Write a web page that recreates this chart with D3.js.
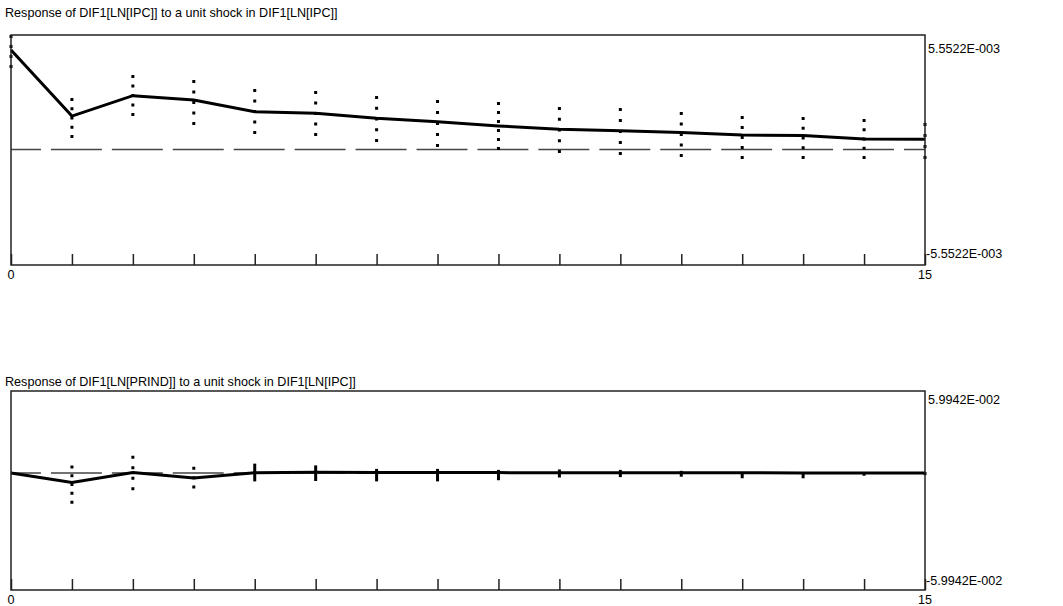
<!DOCTYPE html>
<html>
<head>
<meta charset="utf-8">
<script src="https://cdn.jsdelivr.net/npm/d3@7"></script>
<style>
    body { margin: 0; background: #fff; }
    text { font-family: "Liberation Sans", Arial, sans-serif; font-size: 12.6px; fill: #000; }
</style>
</head>
<body>
<div id="chart"></div>
<script>
// horizon (steps after the shock)
var steps = [0, 1, 2, 3, 4, 5, 6, 7, 8, 9, 10, 11, 12, 13, 14, 15];
var xTickLabels = ["0", "15"];

// panel 1: DIF1[LN[IPC]]
var ipcTitle = "Response of DIF1[LN[IPC]] to a unit shock in DIF1[LN[IPC]]";
var ipcScale = 5.5522e-3;
var ipcScaleLabels = ["5.5522E-003", "-5.5522E-003"];
var ipcResponse = [4.82e-3, 1.62e-3, 2.61e-3, 2.40e-3, 1.83e-3, 1.76e-3, 1.51e-3, 1.35e-3,
    1.14e-3, 0.98e-3, 0.91e-3, 0.83e-3, 0.70e-3, 0.68e-3, 0.51e-3, 0.50e-3];
var ipcUpper = [5.55e-3, 2.50e-3, 3.61e-3, 3.37e-3, 2.93e-3, 2.84e-3, 2.59e-3, 2.40e-3,
    2.30e-3, 2.06e-3, 2.01e-3, 1.82e-3, 1.62e-3, 1.58e-3, 1.48e-3, 1.28e-3];
var ipcLower = [3.95e-3, 0.56e-3, 1.62e-3, 1.19e-3, 0.75e-3, 0.65e-3, 0.36e-3, 0.12e-3,
    -0.02e-3, -0.17e-3, -0.27e-3, -0.36e-3, -0.46e-3, -0.46e-3, -0.46e-3, -0.46e-3];

// panel 2: DIF1[LN[PRIND]]
var prindTitle = "Response of DIF1[LN[PRIND]] to a unit shock in DIF1[LN[IPC]]";
var prindScale = 5.9942e-2;
var prindScaleLabels = ["5.9942E-002", "-5.9942E-002"];
var prindResponse = [0, -4.8e-3, 0.3e-3, -2.6e-3, 0.1e-3, 0.4e-3, 0.3e-3, 0.2e-3,
    0.2e-3, 0.1e-3, 0.1e-3, 0.1e-3, 0.1e-3, 0.0, 0.0, 0.0];
var prindUpper = [0, 3.9e-3, 8.9e-3, 3.2e-3, 4.8e-3, 3.9e-3, 2.1e-3, 2.1e-3,
    1.6e-3, 1.8e-3, 1.6e-3, 1.1e-3, 0.5e-3, 0.5e-3, 0.5e-3, 0.5e-3];
var prindLower = [0, -15.7e-3, -8.9e-3, -8.0e-3, -4.3e-3, -4.1e-3, -4.3e-3, -4.3e-3,
    -3.7e-3, -2.3e-3, -2.1e-3, -1.9e-3, -2.7e-3, -2.7e-3, -1.4e-3, -1.1e-3];

var width = 1063, height = 606;

var svg = d3.select("#chart")
    .append("svg")
    .attr("width", width)
    .attr("height", height);

// p: frame box, y scale pixel range and text positions of one panel
function drawPanel(p, title, scaleMax, scaleLabels, response, upper, lower) {
    var left = 11, right = 925;

    var x = d3.scaleLinear()
        .domain([steps[0], steps[steps.length - 1]])
        .range([left, right]);
    var y = d3.scaleLinear()
        .domain([-scaleMax, scaleMax])
        .range([p.scaleBottom, p.scaleTop]);

    var g = svg.append("g");

    // title
    g.append("text")
        .attr("x", 5)
        .attr("y", p.titleY)
        .text(title);

    // zero line, one dash per step
    var stepWidth = x(1) - x(0);
    g.append("line")
        .attr("x1", x(steps[0]))
        .attr("x2", x(steps[steps.length - 1]))
        .attr("y1", y(0))
        .attr("y2", y(0))
        .attr("stroke", "#444")
        .attr("stroke-width", 1.5)
        .attr("stroke-dasharray", (stepWidth - 10) + "," + 10)
        .attr("stroke-dashoffset", 21);

    // error bands drawn as dotted bars, dots spread evenly from end to end
    // (short bars come out solid)
    g.selectAll(".band")
        .data(steps)
        .enter()
        .append("line")
        .attr("class", "band")
        .attr("x1", function (d) { return x(d); })
        .attr("x2", function (d) { return x(d); })
        .attr("y1", function (d, i) { return y(upper[i]); })
        .attr("y2", function (d, i) { return y(lower[i]); })
        .attr("stroke", "#000")
        .attr("stroke-width", 3)
        .attr("stroke-dasharray", function (d, i) {
            var len = Math.abs(y(lower[i]) - y(upper[i]));
            if (len < 20) return null;
            var n = Math.round(len / 10.5) + 1;
            var gap = (len - 3 * n) / (n - 1);
            return "3," + gap;
        });

    // response line
    g.append("path")
        .datum(steps)
        .attr("fill", "none")
        .attr("stroke", "#000")
        .attr("stroke-width", 3)
        .attr("d", d3.line()
            .x(function (d) { return x(d); })
            .y(function (d, i) { return y(response[i]); })
        );

    // x ticks pointing up into the frame
    var xAxis = g.append("g")
        .attr("transform", "translate(0," + p.bottom + ")")
        .call(d3.axisBottom(x).tickValues(steps).tickSizeInner(-11).tickSizeOuter(0).tickFormat(""));
    xAxis.select(".domain").remove();
    xAxis.selectAll("line").attr("stroke", "#222").attr("stroke-width", 1.5);

    g.selectAll(".xlab")
        .data(xTickLabels)
        .enter()
        .append("text")
        .attr("class", "xlab")
        .attr("x", function (d) { return x(+d); })
        .attr("y", p.bottom + 14)
        .attr("text-anchor", "middle")
        .text(function (d) { return d; });

    // frame
    g.append("rect")
        .attr("x", left)
        .attr("y", p.top)
        .attr("width", right - left)
        .attr("height", p.bottom - p.top)
        .attr("fill", "none")
        .attr("stroke", "#222")
        .attr("stroke-width", 1.5);

    // scale labels on the right
    g.append("text")
        .attr("x", right + 3)
        .attr("y", p.maxLabelY)
        .text(scaleLabels[0]);
    g.append("text")
        .attr("x", right + 1)
        .attr("y", p.minLabelY)
        .text(scaleLabels[1]);
}

drawPanel({ top: 35, bottom: 265, scaleTop: 35, scaleBottom: 264, titleY: 17, maxLabelY: 53, minLabelY: 258 },
    ipcTitle, ipcScale, ipcScaleLabels, ipcResponse, ipcUpper, ipcLower);
drawPanel({ top: 391, bottom: 590, scaleTop: 356, scaleBottom: 590, titleY: 386, maxLabelY: 404, minLabelY: 585 },
    prindTitle, prindScale, prindScaleLabels, prindResponse, prindUpper, prindLower);
</script>
</body>
</html>
